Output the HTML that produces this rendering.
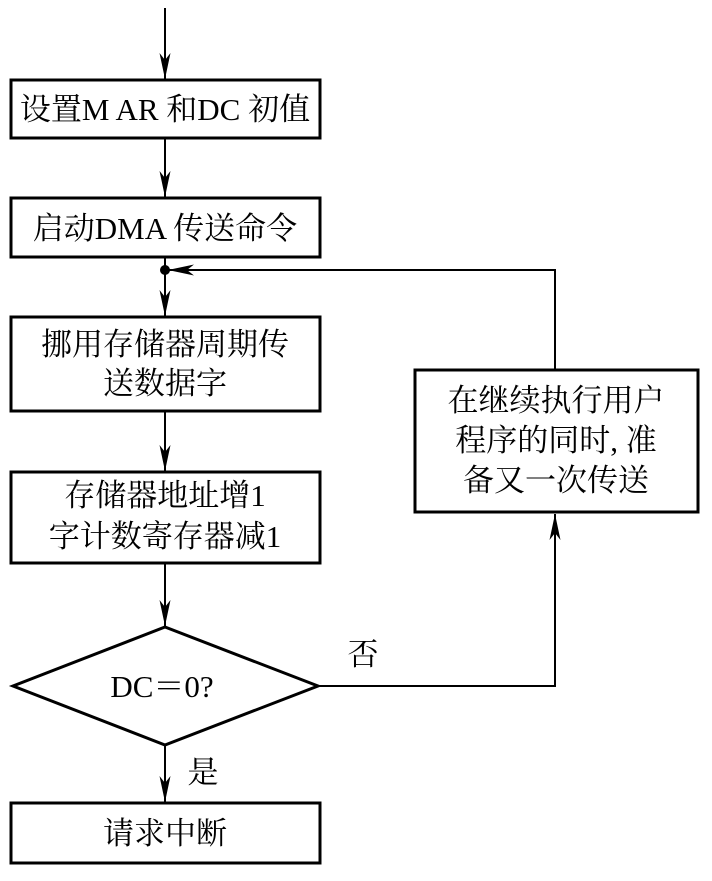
<!DOCTYPE html>
<html><head><meta charset="utf-8"><style>
html,body{margin:0;padding:0;background:#fff;}
svg text{font-family:"Liberation Serif","Noto Serif CJK SC",serif;font-size:31px;fill:#000;}
</style></head><body>
<svg width="712" height="876" viewBox="0 0 712 876" xmlns="http://www.w3.org/2000/svg">
<defs>
<marker id="a" viewBox="0 0 26 12" refX="26" refY="6" markerWidth="26" markerHeight="12" markerUnits="userSpaceOnUse" orient="auto">
<path d="M0,0.5 L26,6 L0,11.5 L7,6 Z" fill="#000"/>
</marker>
</defs>
<g stroke="#000" stroke-width="2" fill="none">
<line x1="165" y1="8" x2="165" y2="79" marker-end="url(#a)"/>
<line x1="165" y1="139" x2="165" y2="197" marker-end="url(#a)"/>
<line x1="165" y1="258" x2="165" y2="316" marker-end="url(#a)"/>
<line x1="165" y1="412" x2="165" y2="471" marker-end="url(#a)"/>
<line x1="165" y1="564" x2="165" y2="626" marker-end="url(#a)"/>
<line x1="165" y1="746" x2="165" y2="802" marker-end="url(#a)"/>
<polyline points="318,686 555,686 555,514" marker-end="url(#a)"/>
<polyline points="555,370 555,270 167,270" />
<line x1="230" y1="270" x2="168" y2="270" marker-end="url(#a)"/>
</g>
<circle cx="165" cy="270" r="5" fill="#000"/>
<g stroke="#000" stroke-width="3" fill="#fff">
<rect x="11" y="80" width="309" height="58"/>
<rect x="11" y="198" width="309" height="59"/>
<rect x="11" y="317" width="309" height="94"/>
<rect x="11" y="472" width="309" height="91"/>
<polygon points="165,627 318,686 165,745 13,686"/>
<rect x="11" y="803" width="309" height="60"/>
<rect x="415" y="370" width="283" height="142"/>
</g>
<g text-anchor="middle">
<text x="165" y="120">设置M AR 和DC 初值</text>
<text x="165" y="239">启动DMA 传送命令</text>
<text x="165" y="355">挪用存储器周期传</text>
<text x="165" y="394">送数据字</text>
<text x="165" y="506">存储器地址增1</text>
<text x="165" y="547">字计数寄存器减1</text>
<text x="162" y="697" font-size="28">DC＝0?</text>
<text x="165" y="844">请求中断</text>
<text x="556" y="411">在继续执行用户</text>
<text x="556" y="451">程序的同时, 准</text>
<text x="556" y="491">备又一次传送</text>
<text x="363" y="665">否</text>
<text x="203" y="783">是</text>
</g>
</svg>
</body></html>
